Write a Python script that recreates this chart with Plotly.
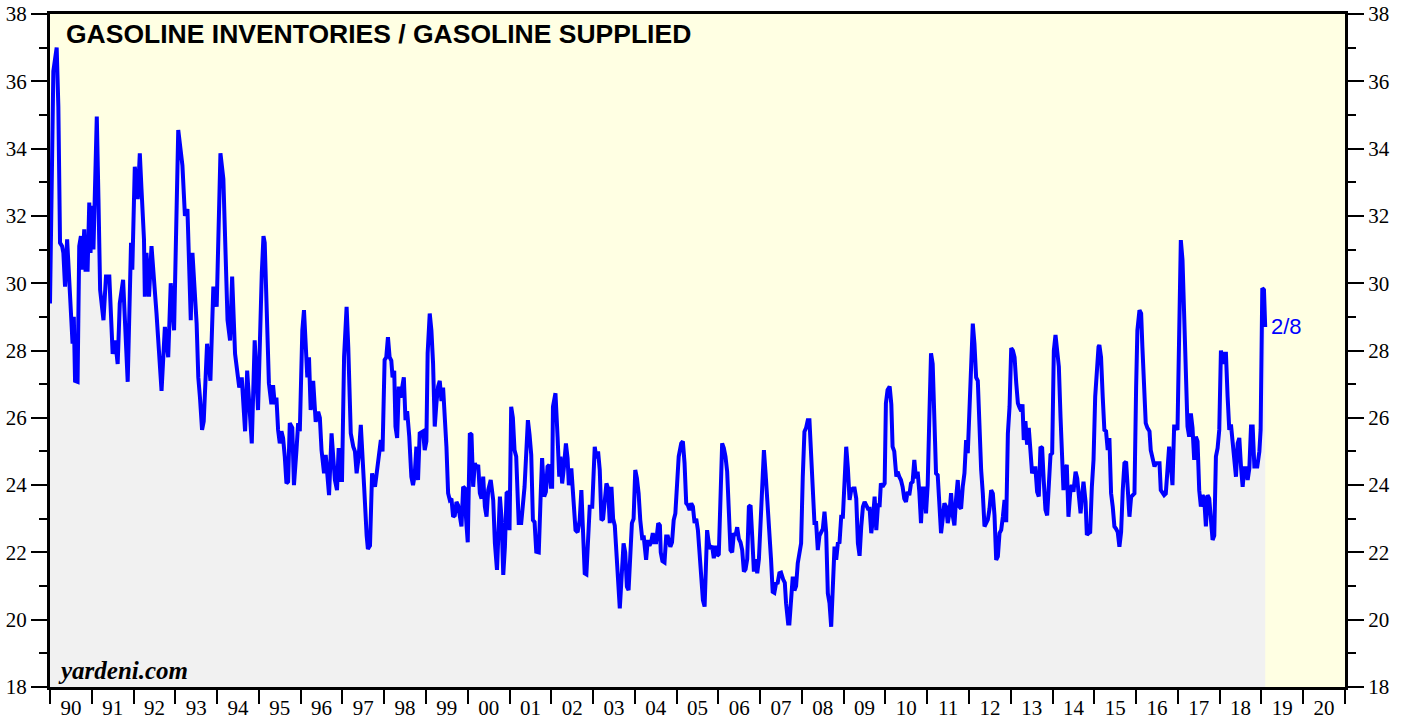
import plotly.graph_objects as go

# Decimal year of each traced observation
years = [
    1990.00, 1990.08, 1990.16, 1990.20, 1990.24, 1990.29, 1990.32, 1990.36, 1990.41, 1990.50,
    1990.54, 1990.57, 1990.60, 1990.66, 1990.70, 1990.74, 1990.77, 1990.82, 1990.85, 1990.90,
    1990.94, 1990.97, 1991.01, 1991.04, 1991.12, 1991.16, 1991.20, 1991.28, 1991.34, 1991.42,
    1991.50, 1991.56, 1991.62, 1991.67, 1991.75, 1991.86, 1991.94, 1991.97, 1992.03, 1992.10,
    1992.15, 1992.19, 1992.25, 1992.27, 1992.31, 1992.37, 1992.43, 1992.55, 1992.67, 1992.75,
    1992.83, 1992.89, 1992.97, 1993.07, 1993.11, 1993.17, 1993.23, 1993.29, 1993.37, 1993.41,
    1993.51, 1993.55, 1993.59, 1993.64, 1993.68, 1993.76, 1993.84, 1993.91, 1993.99, 1994.08,
    1994.15, 1994.19, 1994.25, 1994.31, 1994.36, 1994.43, 1994.53, 1994.59, 1994.67, 1994.72,
    1994.83, 1994.90, 1994.98, 1995.07, 1995.11, 1995.14, 1995.24, 1995.30, 1995.34, 1995.38,
    1995.42, 1995.46, 1995.50, 1995.54, 1995.58, 1995.62, 1995.66, 1995.70, 1995.74, 1995.80,
    1995.84, 1995.90, 1995.94, 1995.98, 1996.00, 1996.04, 1996.08, 1996.12, 1996.16, 1996.20,
    1996.24, 1996.30, 1996.36, 1996.42, 1996.46, 1996.50, 1996.56, 1996.60, 1996.64, 1996.68,
    1996.74, 1996.78, 1996.82, 1996.87, 1996.91, 1996.96, 1996.99, 1997.04, 1997.10, 1997.14,
    1997.20, 1997.26, 1997.30, 1997.34, 1997.39, 1997.44, 1997.48, 1997.52, 1997.58, 1997.61,
    1997.66, 1997.71, 1997.78, 1997.82, 1997.87, 1997.92, 1997.96, 1998.01, 1998.05, 1998.09,
    1998.13, 1998.17, 1998.20, 1998.24, 1998.27, 1998.31, 1998.35, 1998.39, 1998.47, 1998.51,
    1998.55, 1998.60, 1998.65, 1998.69, 1998.73, 1998.77, 1998.81, 1998.85, 1998.93, 1998.97,
    1999.01, 1999.04, 1999.09, 1999.13, 1999.17, 1999.21, 1999.25, 1999.29, 1999.33, 1999.37,
    1999.41, 1999.45, 1999.49, 1999.53, 1999.57, 1999.61, 1999.65, 1999.69, 1999.73, 1999.77,
    1999.81, 1999.85, 1999.89, 1999.93, 1999.96, 2000.00, 2000.05, 2000.09, 2000.13, 2000.17,
    2000.21, 2000.25, 2000.29, 2000.33, 2000.37, 2000.41, 2000.45, 2000.49, 2000.55, 2000.61,
    2000.65, 2000.70, 2000.77, 2000.81, 2000.85, 2000.89, 2000.93, 2000.97, 2001.00, 2001.04,
    2001.08, 2001.12, 2001.16, 2001.20, 2001.22, 2001.28, 2001.32, 2001.36, 2001.40, 2001.44,
    2001.48, 2001.52, 2001.56, 2001.60, 2001.64, 2001.70, 2001.75, 2001.78, 2001.83, 2001.87,
    2001.91, 2001.95, 2001.99, 2002.02, 2002.04, 2002.10, 2002.15, 2002.19, 2002.22, 2002.26,
    2002.30, 2002.35, 2002.39, 2002.42, 2002.48, 2002.52, 2002.58, 2002.63, 2002.68, 2002.72,
    2002.76, 2002.80, 2002.84, 2002.88, 2002.92, 2002.98, 2003.04, 2003.08, 2003.12, 2003.16,
    2003.20, 2003.24, 2003.28, 2003.32, 2003.36, 2003.40, 2003.44, 2003.48, 2003.52, 2003.56,
    2003.60, 2003.64, 2003.68, 2003.73, 2003.77, 2003.81, 2003.85, 2003.89, 2003.93, 2003.97,
    2004.01, 2004.05, 2004.09, 2004.13, 2004.18, 2004.21, 2004.24, 2004.27, 2004.31, 2004.35,
    2004.39, 2004.43, 2004.47, 2004.51, 2004.56, 2004.60, 2004.62, 2004.66, 2004.71, 2004.75,
    2004.79, 2004.85, 2004.89, 2004.93, 2004.97, 2005.02, 2005.05, 2005.11, 2005.15, 2005.19,
    2005.23, 2005.27, 2005.31, 2005.35, 2005.39, 2005.43, 2005.47, 2005.51, 2005.55, 2005.59,
    2005.63, 2005.67, 2005.73, 2005.77, 2005.81, 2005.85, 2005.89, 2005.93, 2005.97, 2006.01,
    2006.05, 2006.09, 2006.13, 2006.17, 2006.21, 2006.25, 2006.29, 2006.33, 2006.37, 2006.41,
    2006.45, 2006.49, 2006.53, 2006.57, 2006.61, 2006.65, 2006.69, 2006.73, 2006.77, 2006.81,
    2006.85, 2006.89, 2006.93, 2006.97, 2007.01, 2007.05, 2007.09, 2007.13, 2007.17, 2007.22,
    2007.26, 2007.30, 2007.34, 2007.38, 2007.42, 2007.46, 2007.50, 2007.55, 2007.59, 2007.62,
    2007.67, 2007.70, 2007.74, 2007.78, 2007.82, 2007.86, 2007.90, 2007.94, 2007.98, 2008.02,
    2008.06, 2008.10, 2008.14, 2008.18, 2008.22, 2008.26, 2008.30, 2008.34, 2008.38, 2008.42,
    2008.46, 2008.50, 2008.54, 2008.58, 2008.62, 2008.66, 2008.70, 2008.74, 2008.78, 2008.82,
    2008.86, 2008.90, 2008.94, 2008.98, 2009.02, 2009.06, 2009.10, 2009.14, 2009.18, 2009.22,
    2009.26, 2009.30, 2009.34, 2009.38, 2009.42, 2009.46, 2009.50, 2009.54, 2009.58, 2009.62,
    2009.66, 2009.70, 2009.74, 2009.78, 2009.82, 2009.86, 2009.89, 2009.93, 2009.98, 2010.01,
    2010.05, 2010.10, 2010.14, 2010.17, 2010.21, 2010.26, 2010.29, 2010.33, 2010.37, 2010.41,
    2010.45, 2010.49, 2010.53, 2010.57, 2010.61, 2010.65, 2010.69, 2010.73, 2010.77, 2010.81,
    2010.85, 2010.89, 2010.93, 2010.97, 2011.01, 2011.05, 2011.09, 2011.13, 2011.17, 2011.21,
    2011.25, 2011.29, 2011.33, 2011.37, 2011.41, 2011.45, 2011.49, 2011.53, 2011.57, 2011.61,
    2011.65, 2011.69, 2011.73, 2011.77, 2011.81, 2011.85, 2011.89, 2011.93, 2011.97, 2012.01,
    2012.05, 2012.09, 2012.13, 2012.17, 2012.21, 2012.25, 2012.29, 2012.33, 2012.37, 2012.41,
    2012.45, 2012.49, 2012.53, 2012.57, 2012.61, 2012.65, 2012.69, 2012.73, 2012.77, 2012.81,
    2012.85, 2012.89, 2012.93, 2012.97, 2013.01, 2013.05, 2013.09, 2013.13, 2013.17, 2013.21,
    2013.25, 2013.28, 2013.31, 2013.35, 2013.39, 2013.43, 2013.47, 2013.51, 2013.55, 2013.59,
    2013.63, 2013.67, 2013.71, 2013.75, 2013.79, 2013.83, 2013.87, 2013.91, 2013.95, 2013.99,
    2014.03, 2014.07, 2014.11, 2014.15, 2014.19, 2014.22, 2014.26, 2014.31, 2014.34, 2014.38,
    2014.43, 2014.46, 2014.50, 2014.55, 2014.59, 2014.62, 2014.67, 2014.70, 2014.74, 2014.79,
    2014.82, 2014.86, 2014.90, 2014.94, 2014.98, 2015.02, 2015.06, 2015.10, 2015.12, 2015.16,
    2015.20, 2015.24, 2015.28, 2015.32, 2015.36, 2015.40, 2015.44, 2015.48, 2015.52, 2015.56,
    2015.60, 2015.64, 2015.68, 2015.72, 2015.76, 2015.80, 2015.84, 2015.88, 2015.92, 2015.96,
    2016.00, 2016.03, 2016.08, 2016.12, 2016.15, 2016.20, 2016.23, 2016.27, 2016.32, 2016.35,
    2016.39, 2016.44, 2016.47, 2016.51, 2016.56, 2016.59, 2016.63, 2016.67, 2016.71, 2016.75,
    2016.79, 2016.83, 2016.87, 2016.91, 2016.95, 2016.99, 2017.03, 2017.07, 2017.11, 2017.15,
    2017.19, 2017.23, 2017.27, 2017.31, 2017.35, 2017.39, 2017.43, 2017.47, 2017.51, 2017.55,
    2017.59, 2017.63, 2017.67, 2017.71, 2017.75, 2017.79, 2017.83, 2017.87, 2017.91, 2017.95,
    2017.99, 2018.03, 2018.07, 2018.11, 2018.15, 2018.19, 2018.23, 2018.27, 2018.31, 2018.35,
    2018.39, 2018.43, 2018.47, 2018.51, 2018.55, 2018.59, 2018.63, 2018.67, 2018.71, 2018.75,
    2018.79, 2018.83, 2018.86, 2018.90, 2018.95, 2018.98, 2019.02, 2019.06, 2019.09,
]

# Gasoline inventories / gasoline supplied (days of supply)
ratio = [
    29.4, 36.3, 37.0, 35.25, 31.2, 31.1, 30.9, 29.9, 31.3, 28.8,
    28.2, 29.0, 27.1, 27.07, 31.1, 31.4, 30.4, 31.6, 30.4, 30.4,
    32.4, 30.9, 32.3, 31.0, 34.95, 32.5, 29.8, 28.9, 30.2, 30.2,
    27.9, 28.3, 27.6, 29.4, 30.1, 27.07, 31.2, 30.4, 33.46, 32.5,
    33.86, 32.8, 31.3, 29.6, 30.9, 29.6, 31.1, 29.1, 26.8, 28.7,
    27.8, 30.0, 28.6, 34.55, 34.0, 33.5, 32.0, 32.2, 28.9, 30.9,
    28.8, 27.2, 26.6, 25.64, 25.9, 28.2, 27.1, 29.9, 29.3, 33.86,
    33.1, 31.1, 28.9, 28.3, 30.2, 27.9, 26.9, 27.2, 25.6, 27.4,
    25.24, 28.3, 26.23, 30.3, 31.4, 31.2, 27.03, 26.4, 26.97, 26.4,
    26.6, 25.64, 25.24, 25.6, 25.4, 24.85, 24.05, 24.1, 25.84, 25.7,
    24.0, 25.04, 25.84, 25.6, 26.68, 28.6, 29.2, 28.0, 27.2, 27.8,
    26.23, 27.1, 25.88, 26.18, 26.0, 25.04, 24.35, 24.9, 24.25, 23.7,
    25.54, 24.8, 24.15, 23.85, 25.1, 24.15, 24.15, 27.82, 29.3, 28.1,
    25.54, 25.14, 25.0, 24.35, 24.85, 25.79, 25.0, 23.95, 22.5, 22.1,
    22.2, 24.35, 23.95, 24.3, 24.75, 25.34, 25.0, 27.72, 27.8, 28.4,
    27.8, 27.7, 27.2, 27.4, 25.74, 25.4, 26.93, 26.6, 27.2, 25.93,
    26.2, 25.44, 24.25, 24.0, 24.3, 25.14, 24.15, 25.54, 25.6, 25.04,
    25.3, 27.92, 29.1, 28.6, 27.62, 25.74, 26.43, 26.93, 27.1, 26.5,
    26.9, 26.13, 25.14, 23.76, 23.56, 23.6, 23.06, 23.1, 23.5, 23.4,
    23.1, 22.77, 23.95, 23.9, 23.0, 22.3, 25.54, 25.5, 23.95, 24.65,
    24.5, 24.6, 23.76, 23.6, 24.25, 23.36, 23.06, 23.85, 24.15, 23.55,
    22.27, 21.48, 23.66, 23.0, 21.33, 22.17, 23.76, 23.8, 22.66, 26.33,
    26.0, 25.04, 24.85, 23.66, 22.87, 22.87, 23.46, 23.95, 24.94, 25.93,
    25.49, 24.9, 22.96, 22.9, 22.02, 22.0, 23.85, 24.8, 23.66, 23.8,
    24.55, 24.6, 23.95, 23.95, 26.33, 26.73, 25.44, 24.25, 24.85, 24.05,
    24.5, 25.24, 24.8, 24.0, 24.5, 23.56, 22.66, 22.6, 22.96, 23.85,
    22.66, 21.38, 21.35, 22.17, 23.36, 23.36, 25.14, 24.8, 25.0, 24.45,
    22.96, 23.0, 23.56, 24.05, 23.9, 22.87, 23.95, 23.0, 22.8, 21.97,
    20.98, 20.34, 21.2, 22.27, 22.0, 20.98, 20.88, 22.0, 22.87, 23.0,
    24.45, 24.2, 23.76, 22.96, 22.37, 22.5, 22.0, 21.78, 22.37, 22.2,
    22.3, 22.57, 22.3, 22.3, 22.87, 22.8, 22.0, 21.74, 21.7, 22.47,
    22.47, 22.17, 22.3, 22.96, 23.16, 24.15, 24.85, 25.24, 25.3, 24.65,
    23.46, 23.4, 23.26, 23.46, 23.36, 22.87, 23.0, 22.66, 22.07, 21.48,
    20.58, 20.39, 22.66, 22.27, 22.1, 22.2, 21.83, 22.2, 21.9, 21.95,
    24.05, 25.24, 25.1, 24.85, 24.4, 22.96, 22.07, 22.0, 22.57, 22.5,
    22.75, 22.4, 22.3, 22.07, 21.43, 21.5, 21.8, 23.36, 23.4, 22.47,
    21.43, 21.8, 21.38, 21.8, 22.87, 24.45, 25.04, 24.35, 23.66, 22.87,
    21.8, 20.83, 20.8, 21.08, 21.1, 21.38, 21.4, 21.2, 21.1, 20.49,
    19.89, 19.89, 20.6, 21.28, 20.87, 21.0, 21.68, 22.0, 22.27, 24.25,
    25.59, 25.7, 25.93, 25.93, 24.94, 23.46, 22.87, 22.87, 22.07, 22.5,
    22.6, 22.7, 23.21, 22.6, 20.78, 20.49, 19.79, 21.25, 22.17, 21.78,
    22.27, 22.3, 23.06, 23.06, 24.05, 25.14, 24.5, 23.56, 23.86, 23.9,
    23.9, 23.6, 22.27, 21.9, 22.77, 23.36, 23.5, 23.36, 23.3, 23.3,
    22.57, 23.0, 23.66, 22.66, 23.4, 23.4, 24.05, 23.95, 24.05, 26.43,
    26.83, 26.93, 26.4, 25.14, 25.0, 24.25, 24.4, 24.25, 24.15, 23.95,
    23.6, 23.5, 23.8, 23.7, 24.05, 24.1, 24.75, 24.2, 24.4, 23.8,
    22.87, 23.9, 23.9, 23.16, 24.0, 26.03, 27.92, 27.6, 26.0, 24.35,
    24.3, 23.16, 22.57, 23.0, 23.46, 23.36, 22.87, 23.16, 23.76, 23.1,
    22.8, 23.6, 24.15, 23.36, 23.3, 23.96, 24.35, 25.34, 24.95, 26.23,
    27.72, 28.8, 28.2, 27.2, 27.1, 25.54, 24.45, 23.75, 22.77, 22.87,
    22.97, 23.3, 23.85, 23.75, 23.1, 21.78, 21.88, 22.57, 22.67, 23.06,
    23.56, 22.9, 25.54, 26.33, 28.07, 28.0, 27.8, 27.03, 26.43, 26.3,
    26.2, 26.4, 25.34, 25.9, 25.2, 25.7, 25.1, 24.35, 24.5, 24.5,
    23.8, 23.66, 25.14, 25.1, 24.1, 23.26, 23.1, 24.1, 24.9, 24.95,
    28.0, 28.46, 28.0, 27.52, 26.03, 24.65, 23.85, 24.5, 24.6, 23.06,
    23.9, 24.0, 23.8, 24.4, 24.2, 23.8, 23.16, 23.6, 24.1, 23.5,
    22.52, 22.57, 22.6, 23.95, 24.75, 26.63, 27.52, 28.11, 28.16, 27.8,
    26.63, 25.64, 25.6, 25.04, 25.4, 23.76, 23.36, 22.77, 22.7, 22.6,
    22.17, 22.6, 23.85, 24.65, 24.7, 23.85, 23.06, 23.65, 23.7, 23.75,
    26.93, 28.6, 29.2, 29.1, 28.1, 26.73, 25.84, 25.7, 25.6, 25.04,
    24.85, 24.55, 24.65, 24.65, 24.65, 23.85, 23.75, 23.7, 23.75, 24.45,
    25.14, 24.6, 24.0, 25.74, 25.74, 25.64, 29.4, 31.28, 30.69, 29.2,
    27.62, 25.74, 25.44, 26.13, 25.7, 24.75, 25.44, 25.3, 23.85, 23.36,
    23.7, 23.6, 22.77, 23.7, 23.6, 22.8, 22.37, 22.5, 24.85, 25.1,
    25.64, 28.0, 27.6, 27.9, 27.9, 26.63, 25.64, 25.8, 25.24, 25.0,
    24.25, 25.24, 25.4, 24.55, 23.95, 24.5, 24.5, 24.15, 24.5, 25.74,
    25.74, 24.55, 24.55, 24.55, 25.0, 25.64, 29.85, 29.8, 28.7,
]

year_starts = list(range(1990, 2022))
year_labels = ["90", "91", "92", "93", "94", "95", "96", "97", "98", "99",
               "00", "01", "02", "03", "04", "05", "06", "07", "08", "09",
               "10", "11", "12", "13", "14", "15", "16", "17", "18", "19", "20"]
y_ticks = list(range(18, 39, 2))

title_text = "GASOLINE INVENTORIES / GASOLINE SUPPLIED"
source_text = "yardeni.com"
last_label = "2/8"

serif = "Liberation Serif, Times New Roman, serif"
sans = "Liberation Sans, Arial, sans-serif"

fig = go.Figure()
fig.add_trace(go.Scatter(
    x=years, y=ratio, mode="lines",
    line=dict(color="#0000FF", width=4),
    fill="tozeroy", fillcolor="#F1F1F1",
    hoverinfo="x+y", showlegend=False,
))
# right-hand axis carrier (same series, invisible)
fig.add_trace(go.Scatter(
    x=years, y=ratio, mode="lines", yaxis="y2",
    line=dict(color="rgba(0,0,0,0)", width=0),
    hoverinfo="skip", showlegend=False,
))

yax_common = dict(
    range=[18, 38], tickmode="array", tickvals=y_ticks,
    ticks="outside", ticklen=16, tickwidth=2, tickcolor="black",
    minor=dict(dtick=1, tick0=18, ticklen=8, tickwidth=2, tickcolor="black", ticks="outside"),
    showline=True, linewidth=3, linecolor="black",
    showgrid=False, zeroline=False, automargin=False,
    tickfont=dict(family=serif, size=21, color="black"),
    fixedrange=True,
)

fig.update_layout(
    width=1406, height=719,
    margin=dict(l=50, r=61, t=14, b=32, autoexpand=False),
    paper_bgcolor="white",
    plot_bgcolor="#FFFFE3",
    xaxis=dict(
        range=[1990, 2021],
        tickmode="array",
        tickvals=[y + 0.5 for y in year_starts[:-1]],
        ticktext=year_labels,
        ticks="outside", ticklen=0, tickcolor="rgba(0,0,0,0)",
        minor=dict(tickmode="array", tickvals=year_starts, ticklen=14, tickwidth=2,
                   tickcolor="black", ticks="outside"),
        showline=True, linewidth=3, linecolor="black", mirror=True,
        showgrid=False, zeroline=False, automargin=False,
        tickfont=dict(family=serif, size=21, color="black"),
    ),
    yaxis=dict(side="left", **yax_common),
    yaxis2=dict(side="right", overlaying="y", anchor="x", **yax_common),
    annotations=[
        dict(text="<b>" + title_text + "</b>", xref="paper", yref="paper",
             x=0.0105, y=0.9703, xanchor="left", yanchor="middle", showarrow=False,
             font=dict(family=sans, size=26.5, color="black")),
        dict(text="<b><i>" + source_text + "</i></b>", xref="paper", yref="paper",
             x=0.005, y=0.025, xanchor="left", yanchor="middle", showarrow=False,
             font=dict(family=serif, size=25, color="black")),
        dict(text=last_label, x=years[-1], y=ratio[-1], xref="x", yref="y",
             xanchor="left", yanchor="middle", xshift=4, showarrow=False,
             font=dict(family=sans, size=22, color="#0000FF")),
    ],
)

# remove the default page margin so the figure sits at the window's top-left corner
fig.write_html("out.html", config={"displayModeBar": False},
               post_script="document.body.style.margin='0';")
